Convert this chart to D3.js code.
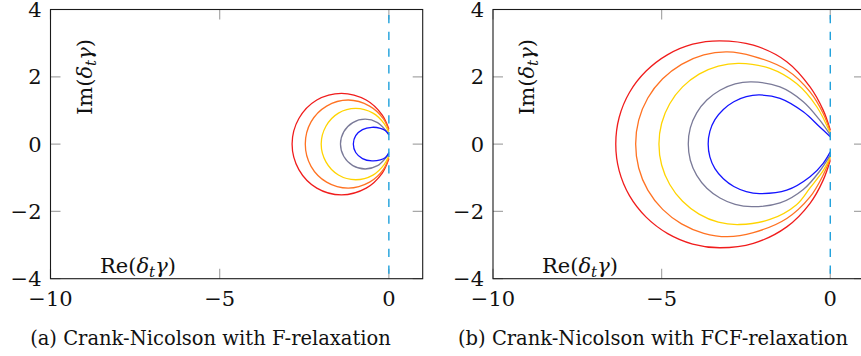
<!DOCTYPE html>
<html>
<head>
<meta charset="utf-8">
<script src="https://d3js.org/d3.v7.min.js"></script>
<style>
  body { margin: 0; background: #fff; }
  svg { display: block; }
  text { font-family: "DejaVu Serif", "Liberation Serif", serif; fill: #111; }
</style>
</head>
<body>
<script>
// tick values
var xTicks = [-10, -5, 0];
var yTicks = [-4, -2, 0, 2, 4];

// level curves, [re, im] points, upper end -> left -> lower end
var curveColours = ["#f01c1c", "#ff7222", "#ffd400", "#7a7a98", "#1414ff"];

var cnRed = [[0,0.45],[-0.20,0.87],[-0.67,1.31],[-1.40,1.51],[-2.13,1.31],[-2.66,0.76],[-2.86,0],
  [-2.66,-0.76],[-2.13,-1.31],[-1.40,-1.51],[-0.67,-1.31],[-0.20,-0.87],[0,-0.44]];
var cnOrange = [[0,0.40],[-0.16,0.75],[-0.57,1.13],[-1.20,1.31],[-1.84,1.13],[-2.30,0.66],[-2.47,0],
  [-2.30,-0.66],[-1.84,-1.13],[-1.20,-1.31],[-0.57,-1.13],[-0.16,-0.75],[0,-0.40]];
var cnYellow = [[0,0.34],[-0.14,0.61],[-0.47,0.92],[-0.98,1.06],[-1.49,0.92],[-1.86,0.53],[-2.0,0],
  [-1.86,-0.53],[-1.49,-0.92],[-0.98,-1.06],[-0.47,-0.92],[-0.14,-0.61],[0,-0.35]];
var cnGray = [[0,0.29],[-0.10,0.42],[-0.335,0.64],[-0.70,0.74],[-1.065,0.64],[-1.33,0.37],[-1.43,0],
  [-1.33,-0.37],[-1.065,-0.64],[-0.70,-0.74],[-0.335,-0.64],[-0.10,-0.42],[0,-0.30]];
var cnBlue = [[0,0.27],[-0.10,0.40],[-0.25,0.47],[-0.50,0.50],[-0.78,0.43],[-0.98,0.25],[-1.05,0],
  [-0.98,-0.25],[-0.78,-0.43],[-0.50,-0.50],[-0.25,-0.47],[-0.10,-0.40],[0,-0.25]];

var fcfRed = [[0,0.42],[-0.21,1.01],[-0.60,1.70],[-1.29,2.45],[-2.28,2.94],[-3.28,3.07],[-4.08,2.97],
  [-4.82,2.66],[-5.46,2.17],[-5.95,1.54],[-6.26,0.79],[-6.36,0],[-6.26,-0.79],[-5.95,-1.54],
  [-5.46,-2.17],[-4.82,-2.66],[-4.08,-2.97],[-3.28,-3.08],[-2.28,-2.95],[-1.29,-2.46],[-0.60,-1.76],
  [-0.21,-1.07],[0,-0.48]];
var fcfOrange = [[0,0.37],[-0.21,0.91],[-0.60,1.55],[-1.29,2.20],[-2.28,2.61],[-3.05,2.74],[-3.75,2.65],
  [-4.41,2.37],[-4.97,1.94],[-5.41,1.37],[-5.68,0.71],[-5.77,0],[-5.68,-0.71],[-5.41,-1.37],
  [-4.97,-1.94],[-4.41,-2.37],[-3.75,-2.65],[-3.05,-2.75],[-2.28,-2.63],[-1.29,-2.21],[-0.60,-1.57],
  [-0.21,-0.92],[0,-0.43]];
var fcfYellow = [[0,0.32],[-0.40,1.11],[-1.0,1.80],[-1.79,2.25],[-2.70,2.40],[-3.32,2.32],[-3.89,2.08],
  [-4.38,1.70],[-4.76,1.20],[-5.00,0.62],[-5.08,0],[-5.00,-0.62],[-4.76,-1.20],[-4.38,-1.70],
  [-3.89,-2.08],[-3.32,-2.32],[-2.70,-2.39],[-1.79,-2.24],[-1.0,-1.80],[-0.60,-1.30],[-0.21,-0.79],
  [0,-0.38]];
var fcfGray = [[0,0.27],[-0.31,0.71],[-0.80,1.26],[-1.49,1.70],[-2.33,1.85],[-2.82,1.79],[-3.27,1.60],
  [-3.66,1.31],[-3.96,0.93],[-4.15,0.48],[-4.21,0],[-4.15,-0.48],[-3.96,-0.93],[-3.66,-1.31],
  [-3.27,-1.60],[-2.82,-1.79],[-2.33,-1.86],[-1.49,-1.75],[-0.80,-1.35],[-0.31,-0.80],[0,-0.33]];
var fcfBlue = [[0,0.22],[-0.31,0.51],[-0.80,0.96],[-1.49,1.36],[-2.10,1.46],[-2.49,1.41],[-2.86,1.26],
  [-3.17,1.03],[-3.42,0.73],[-3.57,0.38],[-3.62,0],[-3.57,-0.38],[-3.42,-0.73],[-3.17,-1.03],
  [-2.86,-1.26],[-2.49,-1.41],[-2.10,-1.47],[-1.29,-1.37],[-0.60,-0.97],[-0.21,-0.57],[0,-0.23]];

var cnCurves = [cnRed, cnOrange, cnYellow, cnGray, cnBlue];
var fcfCurves = [fcfRed, fcfOrange, fcfYellow, fcfGray, fcfBlue];

var captions = ["(a) Crank-Nicolson with F-relaxation", "(b) Crank-Nicolson with FCF-relaxation"];

var svg = d3.select("body").append("svg")
  .attr("width", 861)
  .attr("height", 356);

function drawPanel(left, right, curves, caption, captionX, imX, reX) {
  var top = 9.5, bottom = 278.7;
  var x = d3.scaleLinear().domain([-10, 1]).range([left, right]);
  var y = d3.scaleLinear().domain([-4, 4]).range([bottom, top]);
  var g = svg.append("g");

  // inner ticks, pgfplots style
  var tickLen = 10;
  g.selectAll(".xt").data(xTicks).enter().append("path")
    .attr("d", function(d) {
      return "M" + x(d) + "," + bottom + "v" + (-tickLen) + "M" + x(d) + "," + top + "v" + tickLen;
    })
    .attr("stroke", "#a8a8a8").attr("stroke-width", 1.2);
  g.selectAll(".yt").data(yTicks).enter().append("path")
    .attr("d", function(d) {
      return "M" + left + "," + y(d) + "h" + tickLen + "M" + right + "," + y(d) + "h" + (-tickLen);
    })
    .attr("stroke", "#a8a8a8").attr("stroke-width", 1.2);

  var line = d3.line()
    .x(function(d) { return x(d[0]); })
    .y(function(d) { return y(d[1]); })
    .curve(d3.curveCatmullRom.alpha(0.5));

  g.selectAll(".lvl").data(curves).enter().append("path")
    .attr("d", line)
    .attr("fill", "none")
    .attr("stroke", function(d, i) { return curveColours[i]; })
    .attr("stroke-width", 1.3);

  // stability boundary, Re = 0
  g.append("line")
    .attr("x1", x(0)).attr("x2", x(0))
    .attr("y1", y(4)).attr("y2", y(-4))
    .attr("stroke", "#1ea0dc")
    .attr("stroke-width", 1.4)
    .attr("stroke-dasharray", "8.3 8.4")
    .attr("stroke-dashoffset", 11.2);

  g.append("rect")
    .attr("x", left).attr("y", top)
    .attr("width", right - left).attr("height", bottom - top)
    .attr("fill", "none").attr("stroke", "#1a1a1a").attr("stroke-width", 1.1);

  g.selectAll(".xl").data(xTicks).enter().append("text")
    .attr("x", function(d) { return x(d); })
    .attr("y", 306)
    .attr("text-anchor", "middle")
    .style("font-size", "21px")
    .text(function(d) { return d < 0 ? "\u2212" + Math.abs(d) : d; });

  g.selectAll(".yl").data(yTicks).enter().append("text")
    .attr("x", left - 9)
    .attr("y", function(d) { return y(d) + 7.5; })
    .attr("text-anchor", "end")
    .style("font-size", "21px")
    .text(function(d) { return d < 0 ? "\u2212" + Math.abs(d) : d; });

  var im = g.append("text")
    .attr("transform", "translate(" + imX + ",77) rotate(-90)")
    .attr("text-anchor", "middle")
    .style("font-size", "21px");
  im.append("tspan").text("Im(");
  im.append("tspan").style("font-style", "italic").text("\u03b4");
  im.append("tspan").style("font-style", "italic").style("font-size", "15px").attr("dy", 4).text("t");
  im.append("tspan").style("font-style", "italic").attr("dy", -4).text("\u03b3");
  im.append("tspan").text(")");

  var re = g.append("text")
    .attr("x", reX).attr("y", 273)
    .style("font-size", "21px");
  re.append("tspan").text("Re(");
  re.append("tspan").style("font-style", "italic").text("\u03b4");
  re.append("tspan").style("font-style", "italic").style("font-size", "15px").attr("dy", 4).text("t");
  re.append("tspan").style("font-style", "italic").attr("dy", -4).text("\u03b3");
  re.append("tspan").text(")");

  g.append("text")
    .attr("x", captionX).attr("y", 345)
    .attr("text-anchor", "middle")
    .style("font-size", "19.5px")
    .text(caption);
}

drawPanel(50.5, 422.7, cnCurves, captions[0], 210.5, 92, 100);
drawPanel(493, 864, fcfCurves, captions[1], 653, 534, 542);
</script>
</body>
</html>
